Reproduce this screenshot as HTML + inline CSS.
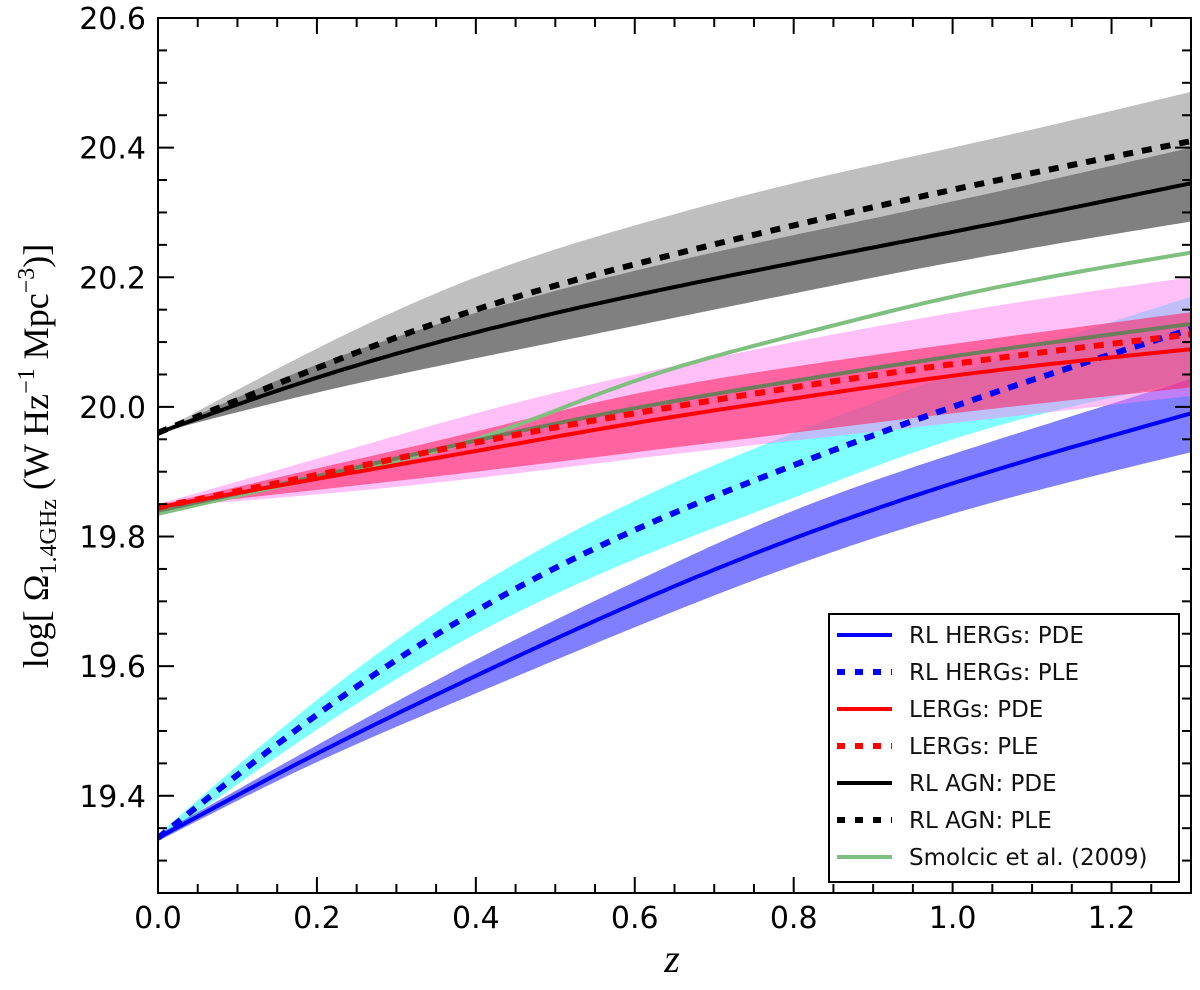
<!DOCTYPE html>
<html><head><meta charset="utf-8"><style>
body{margin:0;background:#fff;}
svg{display:block;}
</style></head><body>
<svg id="chart" width="1200" height="990" xmlns="http://www.w3.org/2000/svg">
<g id="plot"></g>
<g id="axes"></g>
<text transform="translate(48,456) rotate(-90)" text-anchor="middle" font-family="Liberation Serif, serif" font-size="36">log[ Ω<tspan font-size="24" dy="8">1.4GHz</tspan><tspan dy="-8"> (W Hz</tspan><tspan font-size="24" dy="-14">−1</tspan><tspan dy="14"> Mpc</tspan><tspan font-size="24" dy="-14">−3</tspan><tspan dy="14">)]</tspan></text>
<text x="672" y="972" text-anchor="middle" font-family="Liberation Serif, serif" font-style="italic" font-size="40">z</text>
<g id="legend"></g>
</svg>
<script>
const zs = [0, 0.2, 0.4, 0.6, 0.8, 1.0, 1.3];
const hergPDE = [19.335,19.465,19.585,19.697,19.797,19.882,19.99];
const hergPDElo = [19.33,19.452,19.558,19.66,19.755,19.835,19.93];
const hergPDEhi = [19.34,19.478,19.61,19.73,19.84,19.927,20.043];
const hergPLE = [19.335,19.525,19.685,19.81,19.91,20.0,20.12];
const hergPLElo = [19.33,19.502,19.65,19.765,19.86,19.95,20.04];
const hergPLEhi = [19.34,19.548,19.722,19.855,19.96,20.05,20.17];
const lergPDE = [19.845,19.889,19.932,19.975,20.013,20.048,20.089];
const lergPDElo = [19.845,19.872,19.9,19.93,19.96,19.99,20.03];
const lergPDEhi = [19.848,19.905,19.962,20.02,20.062,20.097,20.146];
const lergPLE = [19.845,19.895,19.945,19.99,20.03,20.066,20.112];
const lergPLElo = [19.845,19.865,19.89,19.92,19.948,19.975,20.017];
const lergPLEhi = [19.85,19.92,19.99,20.05,20.1,20.145,20.2];
const agnPDE = [19.96,20.045,20.115,20.172,20.222,20.27,20.345];
const agnPDElo = [19.96,20.022,20.075,20.125,20.175,20.223,20.286];
const agnPDEhi = [19.96,20.065,20.145,20.21,20.265,20.317,20.40];
const agnPLE = [19.96,20.06,20.15,20.22,20.28,20.335,20.41];
const agnPLElo = [19.96,20.03,20.1,20.16,20.215,20.27,20.33];
const agnPLEhi = [19.96,20.09,20.2,20.28,20.345,20.40,20.486];
const smolcic = [19.835,19.89,19.95,20.04,20.11,20.17,20.238];
const smolcic2 = [19.84,19.893,19.948,19.998,20.04,20.078,20.128];
const xTicks = [0,0.2,0.4,0.6,0.8,1.0,1.2];
const xTickLabels = ["0.0","0.2","0.4","0.6","0.8","1.0","1.2"];
const yTicks = [19.4,19.6,19.8,20.0,20.2,20.4,20.6];
const yTickLabels = ["19.4","19.6","19.8","20.0","20.2","20.4","20.6"];
const legendLabels = ["RL HERGs: PDE","RL HERGs: PLE","LERGs: PDE","LERGs: PLE","RL AGN: PDE","RL AGN: PLE","Smolcic et al. (2009)"];

const X0=158,X1=1191,Y0=893,Y1=18, ZMAX=1.3, VMIN=19.25, VMAX=20.6;
const xs = z => X0 + (z/ZMAX)*(X1-X0);
const ys = v => Y0 - (v-VMIN)/(VMAX-VMIN)*(Y0-Y1);
const NS='http://www.w3.org/2000/svg';
function mk(tag, attrs, parent){const e=document.createElementNS(NS,tag);for(const k in attrs)e.setAttribute(k,attrs[k]);parent.appendChild(e);return e;}
// natural cubic spline in data space
function sample(vals){
  const n=zs.length, h=[], a=vals.slice(), al=[0], l=[1], mu=[0], zz=[0], c=new Array(n).fill(0), b=[], d=[];
  for(let i=0;i<n-1;i++)h.push(zs[i+1]-zs[i]);
  for(let i=1;i<n-1;i++)al.push(3/h[i]*(a[i+1]-a[i])-3/h[i-1]*(a[i]-a[i-1]));
  for(let i=1;i<n-1;i++){l[i]=2*(zs[i+1]-zs[i-1])-h[i-1]*mu[i-1];mu[i]=h[i]/l[i];zz[i]=(al[i]-h[i-1]*zz[i-1])/l[i];}
  for(let j=n-2;j>=0;j--){c[j]=(zz[j]||0)-(mu[j]||0)*c[j+1];b[j]=(a[j+1]-a[j])/h[j]-h[j]*(c[j+1]+2*c[j])/3;d[j]=(c[j+1]-c[j])/(3*h[j]);}
  const pts=[];
  for(let i=0;i<n-1;i++){for(let t=0;t<1;t+=0.05){const dz=t*h[i];pts.push([zs[i]+dz,a[i]+b[i]*dz+c[i]*dz*dz+d[i]*dz*dz*dz]);}}
  pts.push([zs[n-1],vals[n-1]]);
  return pts;
}
function linePath(vals){return sample(vals).map((p,i)=>(i?'L':'M')+xs(p[0]).toFixed(1)+','+ys(p[1]).toFixed(1)).join('');}
function bandPath(lo,hi){
  const a=sample(hi), b=sample(lo).reverse();
  return a.concat(b).map((p,i)=>(i?'L':'M')+xs(p[0]).toFixed(1)+','+ys(p[1]).toFixed(1)).join('')+'Z';
}
const plot=document.getElementById('plot');
const clip=mk('clipPath',{id:'clp'},plot);
mk('rect',{x:X0,y:Y1,width:X1-X0,height:Y0-Y1},clip);
const g=mk('g',{'clip-path':'url(#clp)'},plot);
function band(lo,hi,fill,op,name){const e=mk('path',{d:bandPath(lo,hi),fill:fill,'fill-opacity':op,stroke:'none'},g);

}
function line(vals,color,dash,w,name){const e=mk('path',{d:linePath(vals),fill:'none',stroke:color,'stroke-width':w,'stroke-dasharray':dash||'none'},g);

}
band(agnPLElo,agnPLEhi,'#bfbfbf',1,'agn-ple-band');
band(agnPDElo,agnPDEhi,'#808080',1,'agn-pde-band');
band(hergPLElo,hergPLEhi,'#00ffff',0.5,'herg-ple-band');
band(hergPDElo,hergPDEhi,'#0000ff',0.5,'herg-pde-band');
band(lergPLElo,lergPLEhi,'#ff80f0',0.5,'lerg-ple-band');
band(lergPDElo,lergPDEhi,'#ff1a5a',0.55,'lerg-pde-band');
line(smolcic,'#7fbf7f','',4,'smolcic-line');
line(smolcic2,'#6e7d5c','',4,'smolcic-line-2');
line(hergPDE,'#0000ff','',4,'herg-pde-line');
line(hergPLE,'#0000ff','10,9',6,'herg-ple-line');
line(lergPDE,'#ff0000','',4,'lerg-pde-line');
line(lergPLE,'#ff0000','10,9',6,'lerg-ple-line');
line(agnPDE,'#000000','',4,'agn-pde-line');
line(agnPLE,'#000000','10,9',6,'agn-ple-line');

const ax=document.getElementById('axes');
mk('rect',{x:X0,y:Y1,width:X1-X0,height:Y0-Y1,fill:'none',stroke:'#000','stroke-width':2},ax);
for(let i=0;i<=26;i++){const z=i*0.05;const x=xs(z);const major=(i%4===0);const len=major?16:9;
 mk('line',{x1:x,y1:Y0,x2:x,y2:Y0-len,stroke:'#000','stroke-width':2},ax);
 mk('line',{x1:x,y1:Y1,x2:x,y2:Y1+len,stroke:'#000','stroke-width':2},ax);}
for(let i=0;i<=27;i++){const v=VMIN+i*0.05;const y=ys(v);const major=Math.abs((v*5)-Math.round(v*5))<1e-6;const len=major?16:9;
 mk('line',{x1:X0,y1:y,x2:X0+len,y2:y,stroke:'#000','stroke-width':2},ax);
 mk('line',{x1:X1,y1:y,x2:X1-len,y2:y,stroke:'#000','stroke-width':2},ax);}
xTicks.forEach((t,i)=>{const e=mk('text',{x:xs(t),y:928,'text-anchor':'middle','font-family':'DejaVu Sans, Liberation Sans, sans-serif','font-size':30},ax);e.textContent=xTickLabels[i];

});
yTicks.forEach((t,i)=>{const e=mk('text',{x:146,y:ys(t)+11,'text-anchor':'end','font-family':'DejaVu Sans, Liberation Sans, sans-serif','font-size':30},ax);e.textContent=yTickLabels[i];

});

const lg=document.getElementById('legend');
mk('rect',{x:829,y:614,width:350,height:268,fill:'#fff',stroke:'#000','stroke-width':2},lg);
const lcol=['#0000ff','#0000ff','#ff0000','#ff0000','#000','#000','#7fbf7f'];
legendLabels.forEach((l,i)=>{const y=635+i*37;const dashed=(i%2===1&&i<6);
 const ln=mk('line',{x1:837,y1:y,x2:892,y2:y,stroke:lcol[i],'stroke-width':dashed?6:4,'stroke-dasharray':dashed?'8,10':'none'},lg);
 
 
 const t=mk('text',{x:909,y:y+8,'font-family':'DejaVu Sans, Liberation Sans, sans-serif','font-size':23,fill:'#111'},lg);t.textContent=l;
 
 });
</script>
</body></html>
